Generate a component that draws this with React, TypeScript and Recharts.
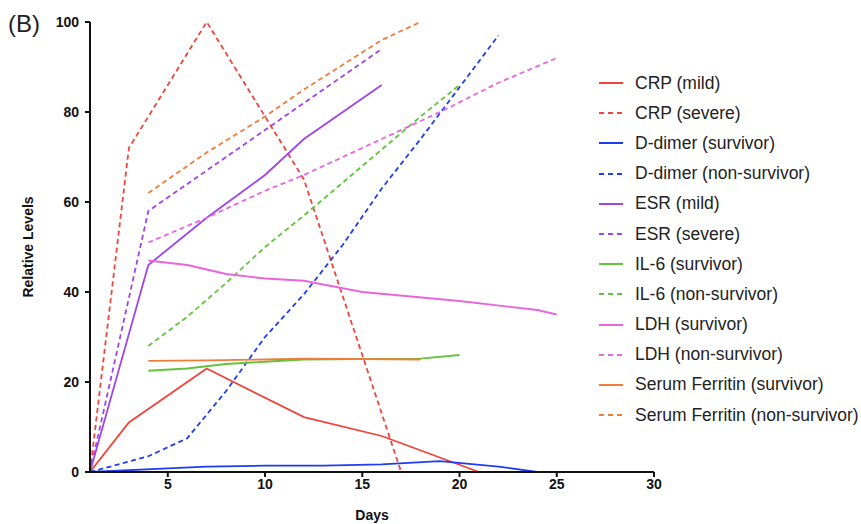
import React from "react"
import { LineChart, Line, XAxis, YAxis, Label } from "recharts"

document.body.style.margin = "0"

// Days and relative levels for each marker
const crpMildDays = [1, 3, 7, 12, 16, 21]
const crpMild = [0, 11, 23, 12.2, 8, 0]
const crpSevereDays = [1, 3, 7, 12, 17]
const crpSevere = [0, 72, 100, 65, 0]

const dDimerSurvDays = [1, 5, 7, 10, 13, 16, 19, 22, 24]
const dDimerSurv = [0, 0.8, 1.2, 1.4, 1.4, 1.7, 2.4, 1.2, 0]
const dDimerNonDays = [1, 4, 6, 8, 10, 12, 14, 16, 18, 20, 22]
const dDimerNon = [0, 3.5, 7.5, 18, 30, 39.5, 50.5, 63, 74, 85.5, 97]

const esrMildDays = [1, 4, 7, 10, 12, 16]
const esrMild = [0, 46, 56.5, 66, 74, 86]
const esrSevereDays = [1, 4, 7, 10, 12, 16]
const esrSevere = [0, 58, 67, 76, 82, 94]

const il6SurvDays = [4, 6, 8, 10, 12, 18, 20]
const il6Surv = [22.5, 23, 24, 24.5, 25, 25.2, 26]
const il6NonDays = [4, 6, 8, 10, 12, 15, 18, 20]
const il6Non = [28, 34.5, 42, 50, 57, 68, 79, 86]

const ldhSurvDays = [4, 6, 8, 10, 12, 15, 20, 24, 25]
const ldhSurv = [47, 46, 44, 43, 42.5, 40, 38, 36, 35]
const ldhNonDays = [4, 7, 10, 12, 16, 19, 22, 25]
const ldhNon = [51, 56.5, 62.5, 66, 74, 80, 86.5, 92]

const ferritinSurvDays = [4, 7, 10, 12, 18]
const ferritinSurv = [24.7, 24.8, 25, 25.2, 25]
const ferritinNonDays = [4, 7, 10, 12, 14, 16, 18]
const ferritinNon = [62, 71, 79, 85, 90.5, 96, 100]

const xTicks = [5, 10, 15, 20, 25, 30]
const yTicks = [0, 20, 40, 60, 80, 100]

const toPoints = (days: number[], vals: number[]) => days.map((d, i) => ({ d, v: vals[i] }))

const series = [
  { name: "CRP (mild)", color: "#f0433a", dashed: false, data: toPoints(crpMildDays, crpMild) },
  { name: "CRP (severe)", color: "#f0433a", dashed: true, data: toPoints(crpSevereDays, crpSevere) },
  { name: "D-dimer (survivor)", color: "#1f3cf5", dashed: false, data: toPoints(dDimerSurvDays, dDimerSurv) },
  { name: "D-dimer (non-survivor)", color: "#1f3cf5", dashed: true, data: toPoints(dDimerNonDays, dDimerNon) },
  { name: "ESR (mild)", color: "#a044e8", dashed: false, data: toPoints(esrMildDays, esrMild) },
  { name: "ESR (severe)", color: "#a044e8", dashed: true, data: toPoints(esrSevereDays, esrSevere) },
  { name: "IL-6 (survivor)", color: "#62c43e", dashed: false, data: toPoints(il6SurvDays, il6Surv) },
  { name: "IL-6 (non-survivor)", color: "#62c43e", dashed: true, data: toPoints(il6NonDays, il6Non) },
  { name: "LDH (survivor)", color: "#e866dc", dashed: false, data: toPoints(ldhSurvDays, ldhSurv) },
  { name: "LDH (non-survivor)", color: "#e866dc", dashed: true, data: toPoints(ldhNonDays, ldhNon) },
  { name: "Serum Ferritin (survivor)", color: "#f07c3c", dashed: false, data: toPoints(ferritinSurvDays, ferritinSurv) },
  { name: "Serum Ferritin (non-survivor)", color: "#f07c3c", dashed: true, data: toPoints(ferritinNonDays, ferritinNon) },
]

const font = "'Liberation Sans', Arial, sans-serif"
const tickStyle = { fontSize: 14, fontWeight: 700, fill: "#111", fontFamily: font }

const App = () => {
  return (
    <div style={{ position: "relative", width: 861, height: 524, fontFamily: font }}>
      <div style={{ position: "absolute", left: 8, top: 10, fontSize: 24, color: "#222" }}>(B)</div>
      <LineChart width={861} height={524} margin={{ top: 22, right: 207, bottom: 0, left: 0 }}>
        <XAxis
          type="number"
          dataKey="d"
          domain={[1, 30]}
          ticks={xTicks}
          allowDataOverflow
          stroke="#111"
          strokeWidth={2}
          tickSize={5}
          tick={tickStyle}
          height={52}
        >
          <Label value="Days" position="insideBottom" offset={4} style={{ fontSize: 14, fontWeight: 700, fill: "#111", fontFamily: font }} />
        </XAxis>
        <YAxis
          type="number"
          domain={[0, 100]}
          ticks={yTicks}
          stroke="#111"
          strokeWidth={2}
          tickSize={5}
          tick={{ ...tickStyle, dx: -4 }}
          width={90}
        >
          <Label
            value="Relative Levels"
            angle={-90}
            position="insideLeft"
            offset={28}
            style={{ textAnchor: "middle", fontSize: 14, fontWeight: 700, fill: "#111", fontFamily: font }}
          />
        </YAxis>
        {series.map((s) => (
          <Line
            key={s.name}
            data={s.data}
            dataKey="v"
            name={s.name}
            type="linear"
            stroke={s.color}
            strokeWidth={1.8}
            strokeDasharray={s.dashed ? "5 3.5" : undefined}
            dot={false}
            isAnimationActive={false}
          />
        ))}
      </LineChart>
      <div style={{ position: "absolute", left: 599, top: 68 }}>
        {series.map((s) => (
          <div key={s.name} style={{ display: "flex", alignItems: "center", height: 30.2 }}>
            <svg width={24} height={4} style={{ marginRight: 12 }}>
              <line x1={0} y1={2} x2={24} y2={2} stroke={s.color} strokeWidth={2} strokeDasharray={s.dashed ? "5 4" : undefined} />
            </svg>
            <span style={{ fontSize: 17.5, color: "#222", whiteSpace: "nowrap" }}>{s.name}</span>
          </div>
        ))}
      </div>
    </div>
  )
}

export default App
